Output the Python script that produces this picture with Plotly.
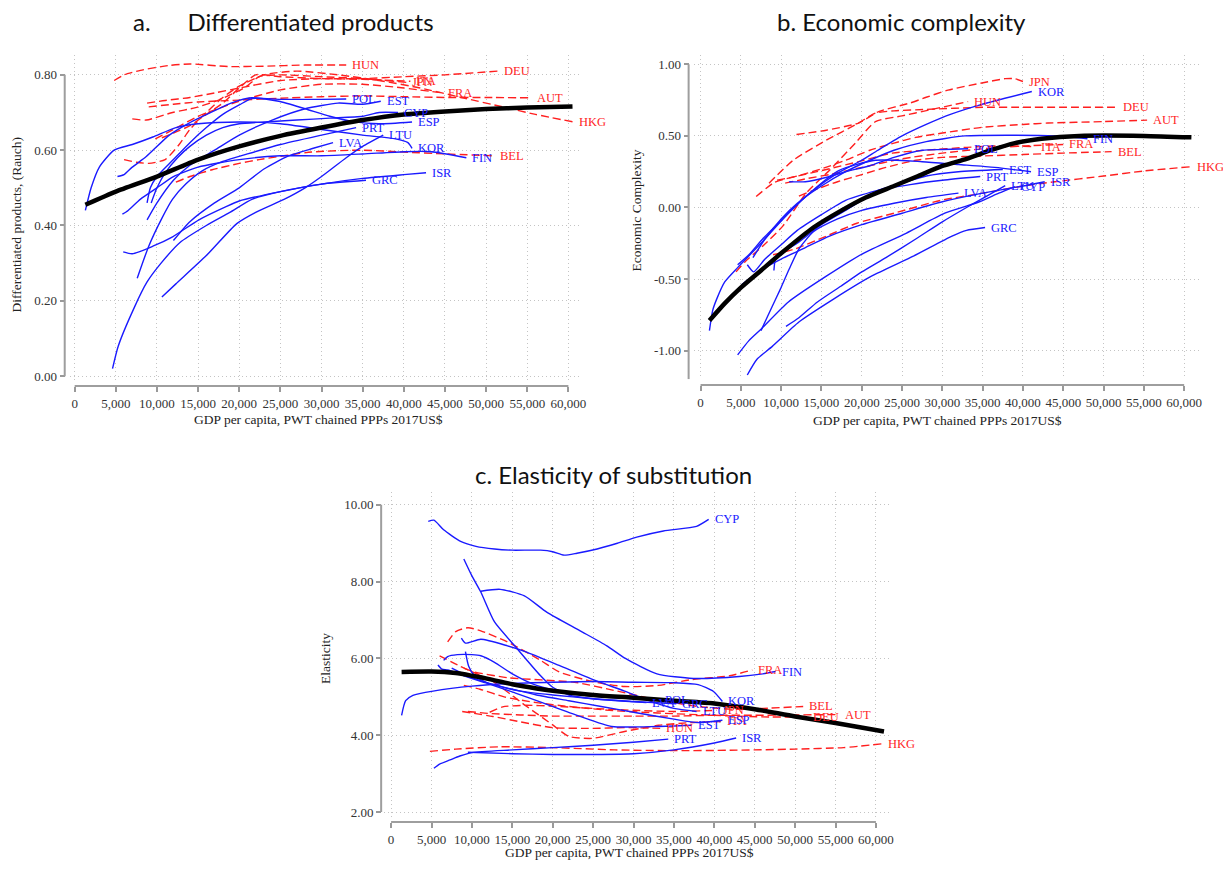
import plotly.graph_objects as go

# ---------------- data (GDP per capita in thousands of 2017US$, value) ----------------
x_tickvals = [0, 5000, 10000, 15000, 20000, 25000, 30000, 35000, 40000, 45000, 50000, 55000, 60000]
x_ticktext = ["0", "5,000", "10,000", "15,000", "20,000", "25,000", "30,000", "35,000",
              "40,000", "45,000", "50,000", "55,000", "60,000"]
a_tickvals = [0.0, 0.2, 0.4, 0.6, 0.8]
a_ticktext = ["0.00", "0.20", "0.40", "0.60", "0.80"]
b_tickvals = [-1.0, -0.5, 0.0, 0.5, 1.0]
b_ticktext = ["-1.00", "-0.50", "0.00", "0.50", "1.00"]
c_tickvals = [2, 4, 6, 8, 10]
c_ticktext = ["2.00", "4.00", "6.00", "8.00", "10.00"]

red_countries = ["HUN", "DEU", "JPN", "ITA", "FRA", "AUT", "HKG", "BEL"]
blue_countries = ["KOR", "POL", "ESP", "CYP", "EST", "PRT", "LTU", "LVA", "FIN", "ISR", "GRC"]

# Panel a: differentiated products (Rauch)
a_fit = [(1.3,0.455),(5,0.49),(10,0.53),(15,0.575),(20,0.61),(25,0.638),(30,0.66),(35,0.68),
         (40,0.695),(45,0.703),(50,0.709),(55,0.713),(60.5,0.716)]
a_HUN = [(4.8,0.785),(6,0.80),(8,0.812),(11.5,0.825),(14,0.829),(18.7,0.822),(23,0.823),(28,0.826),(33,0.826)]
a_JPN = [(7,0.683),(8.7,0.68),(11.9,0.70),(14.7,0.713),(17.5,0.733),(20.8,0.768),(22.4,0.795),(25,0.80),
         (30,0.795),(35,0.79),(40.3,0.78)]
a_ITA = [(8.8,0.725),(11,0.732),(14,0.74),(17,0.752),(20,0.765),(25,0.785),(30,0.79),(35,0.788),(40.8,0.783)]
a_DEU = [(10.6,0.633),(12,0.645),(14,0.665),(16,0.695),(18,0.725),(20,0.765),(22,0.80),(25,0.795),(30,0.79),
         (35,0.79),(40,0.795),(45,0.80),(51.4,0.81)]
a_FRA = [(9.8,0.63),(12,0.655),(15,0.69),(20,0.73),(25,0.76),(30,0.775),(35,0.775),(40,0.765),(44.7,0.752)]
a_AUT = [(9,0.715),(12,0.722),(15,0.728),(20,0.733),(25,0.738),(30,0.742),(35,0.744),(40,0.742),(45,0.74),
         (50,0.74),(55.4,0.739)]
a_HKG = [(6,0.575),(7.5,0.568),(9,0.565),(11,0.575),(12.7,0.615),(14,0.655),(16,0.70),(18,0.74),(20,0.77),
         (23,0.80),(27,0.81),(32,0.80),(37,0.785),(42,0.765),(47,0.74),(52,0.715),(56,0.695),(60.6,0.675)]
a_BEL = [(12.3,0.515),(14,0.53),(16.7,0.548),(20,0.565),(22.4,0.575),(28.8,0.595),(35,0.60),(40,0.595),
         (45,0.59),(51,0.585)]
a_KOR = [(1.3,0.44),(2.0,0.50),(3.0,0.555),(4.8,0.60),(7,0.615),(9.5,0.635),(12.3,0.66),(15,0.67),(20,0.675),
         (25,0.67),(30,0.655),(35,0.64),(39,0.63),(40.5,0.62),(41,0.605)]
a_POL = [(8.8,0.46),(9.2,0.50),(10,0.53),(12,0.575),(14,0.62),(16,0.66),(18,0.695),(20,0.72),(21.5,0.737),
         (25,0.735),(30,0.735),(33,0.736)]
a_ESP = [(5.2,0.53),(6,0.535),(7,0.555),(8.7,0.583),(11.5,0.64),(13.9,0.672),(17.2,0.707),(19,0.725),
         (21.5,0.739),(24.8,0.73),(28,0.71),(31,0.69),(34,0.675),(37,0.67),(41,0.675)]
a_CYP = [(9.3,0.46),(10,0.50),(11,0.54),(12.5,0.58),(14,0.61),(16,0.64),(18,0.66),(20,0.67),(23,0.675),
         (27,0.68),(31,0.685),(35,0.69),(37,0.70),(39.3,0.70)]
a_EST = [(8.8,0.415),(10,0.46),(12,0.52),(14,0.56),(17,0.60),(20,0.64),(24,0.68),(28,0.71),(32,0.725),
         (35,0.722),(37.2,0.73)]
a_PRT = [(7.6,0.26),(9,0.345),(10.5,0.415),(11.9,0.47),(13.5,0.51),(15.5,0.545),(18,0.57),(21,0.59),
         (25,0.615),(30,0.64),(34.2,0.66)]
a_LTU = [(10.6,0.21),(12.3,0.245),(16,0.32),(19.7,0.405),(22,0.435),(25.5,0.47),(28,0.50),(30,0.53),
         (33,0.58),(35,0.61),(37.5,0.64)]
a_LVA = [(12,0.36),(14,0.41),(17,0.46),(20,0.50),(23,0.55),(26,0.585),(29,0.605),(31.4,0.62)]
a_FIN = [(5.8,0.43),(6.5,0.44),(8,0.47),(10,0.50),(12,0.53),(15,0.555),(20,0.575),(25,0.585),(30,0.585),
         (35,0.59),(40,0.596),(43.3,0.596),(47.6,0.58)]
a_ISR = [(4.6,0.02),(5.3,0.08),(7.2,0.18),(8.8,0.25),(10.5,0.30),(12.8,0.355),(16,0.40),(18.8,0.434),
         (21.6,0.47),(25,0.49),(30,0.51),(35,0.525),(40,0.535),(42.7,0.54)]
a_GRC = [(5.9,0.33),(7,0.325),(9.5,0.345),(11.9,0.37),(15.1,0.415),(18.4,0.45),(20,0.465),(25,0.49),
         (30,0.51),(35.4,0.52)]

# Panel b: economic complexity
b_fit = [(1.1,-0.79),(3,-0.67),(5,-0.56),(7.5,-0.44),(10,-0.32),(14,-0.14),(17.5,-0.02),(20.5,0.07),
         (24,0.15),(27,0.22),(30,0.29),(33,0.34),(36,0.40),(39,0.45),(42.3,0.48),(47,0.50),(55,0.50),(60.9,0.49)]
b_HUN = [(4.4,-0.45),(5.5,-0.38),(7.7,-0.27),(10.2,-0.13),(13.1,0.10),(16,0.26),(19.2,0.45),(21.7,0.60),
         (25,0.64),(28.3,0.68),(33.2,0.74)]
b_DEU = [(8.5,0.17),(11.5,0.33),(15.6,0.47),(19.6,0.59),(21.7,0.66),(24,0.675),(28,0.685),(35,0.70),
         (40,0.70),(45,0.70),(51.7,0.70)]
b_JPN = [(11.9,0.51),(15.6,0.54),(19.6,0.59),(22.1,0.67),(26,0.73),(28,0.77),(30.7,0.82),(34.9,0.87),
         (37.8,0.90),(39,0.90),(40,0.88)]
b_ITA = [(6.9,0.077),(9,0.17),(10.2,0.195),(15.6,0.265),(19.6,0.32),(23.8,0.38),(28,0.40),(33,0.42),
         (37,0.43),(41.5,0.425)]
b_AUT = [(9.5,0.19),(12,0.22),(15,0.27),(18,0.33),(21,0.40),(24,0.45),(26.7,0.49),(30,0.52),(34.9,0.56),
         (40,0.58),(43.1,0.59),(50,0.60),(55.4,0.61)]
b_FRA = [(10.5,0.17),(13,0.20),(16,0.23),(20,0.28),(25,0.34),(30,0.38),(35,0.41),(40,0.43),(45,0.44)]
b_BEL = [(12.2,0.08),(14,0.12),(17,0.18),(20,0.23),(23,0.28),(26.7,0.33),(30,0.35),(35,0.36),(40,0.37),
         (45,0.38),(51,0.39)]
b_HKG = [(9,-0.33),(11.7,-0.29),(15.6,-0.2),(19.4,-0.11),(24,-0.04),(29.8,0.05),(35,0.10),(40,0.15),
         (44,0.18),(50,0.22),(55,0.255),(60.9,0.285)]
b_KOR = [(1.1,-0.86),(1.5,-0.72),(2,-0.64),(3,-0.52),(4.6,-0.42),(7.5,-0.25),(10.9,-0.04),(14,0.12),
         (17,0.24),(20,0.33),(22,0.40),(25,0.50),(28,0.58),(31,0.65),(34.9,0.72),(41.1,0.81)]
b_POL = [(11,0.18),(13,0.18),(15.9,0.215),(18,0.25),(20.9,0.29),(24,0.35),(27.5,0.40),(30,0.405),(33.2,0.41)]
b_ESP = [(4.6,-0.40),(6,-0.33),(7.7,-0.22),(10.2,-0.08),(13.1,0.08),(17.2,0.26),(21.7,0.33),(27.5,0.32),
         (32,0.30),(36.5,0.28),(41,0.25)]
b_CYP = [(4.6,-1.03),(6,-0.93),(7.5,-0.85),(10.9,-0.66),(15.6,-0.48),(20.2,-0.32),(25.5,-0.18),(30.3,-0.04),
         (34.6,0.04),(37,0.10),(39,0.146)]
b_EST = [(9.1,-0.44),(9.3,-0.36),(10,-0.32),(12,-0.25),(15,-0.12),(18,-0.02),(20,0.05),(22,0.12),(25,0.17),
         (28,0.22),(32,0.25),(37.5,0.265)]
b_PRT = [(5.8,-0.40),(6.2,-0.43),(6.6,-0.45),(8,-0.36),(10,-0.26),(12,-0.16),(15,-0.05),(18,0.05),
         (22,0.12),(26,0.16),(30,0.19),(34.7,0.216)]
b_LTU = [(10.6,-0.83),(12.2,-0.77),(14.5,-0.66),(17.4,-0.55),(20,-0.45),(23,-0.35),(26.7,-0.22),(30,-0.1),
         (33,0.0),(35.5,0.08),(37.8,0.153)]
b_LVA = [(7.5,-0.86),(8.9,-0.69),(9.9,-0.57),(11,-0.43),(12.2,-0.29),(14,-0.17),(17,-0.08),(20,-0.02),
         (24,0.03),(28,0.07),(32,0.10)]
b_FIN = [(6.5,-0.35),(8,-0.22),(10,-0.08),(12,0.03),(15,0.15),(18,0.25),(21,0.33),(24,0.40),(28,0.46),
         (32.8,0.50),(38,0.505),(44,0.50),(48,0.48)]
b_ISR = [(5.1,-0.54),(6,-0.5),(8,-0.42),(10,-0.36),(13,-0.28),(16,-0.2),(20,-0.12),(25,-0.04),(30,0.04),
         (35,0.10),(40,0.15),(42.7,0.18)]
b_GRC = [(5.8,-1.17),(7,-1.06),(8.9,-0.97),(12.2,-0.80),(16.5,-0.64),(21.2,-0.48),(26.4,-0.34),(31.2,-0.2),
         (33,-0.16),(35.3,-0.14)]

# Panel c: elasticity of substitution
c_fit = [(1.3,5.65),(5,5.66),(8,5.62),(10,5.55),(12,5.47),(15,5.33),(18,5.22),(20,5.16),(25,5.05),
         (30,4.98),(35,4.9),(40,4.83),(45,4.68),(50,4.49),(55,4.32),(61,4.1)]
c_HUN = [(8.8,4.62),(12.6,4.49),(16,4.35),(20,4.2),(24.9,4.18),(28.9,4.2),(33.3,4.18)]
c_DEU = [(9,5.3),(11,5.2),(14,5.0),(18,4.85),(22,4.75),(27,4.65),(33,4.58),(40,4.52),(46,4.48),(51.5,4.47)]
c_JPN = [(12.2,4.6),(13.8,4.74),(16.6,4.78),(20,4.76),(24.9,4.7),(30,4.65),(35,4.62),(40.3,4.65)]
c_ITA = [(6,6.07),(8.5,5.8),(12.6,5.4),(16.6,4.78),(20,4.27),(22,3.97),(24.9,3.92),(28.9,4.1),(33.1,4.26),
         (37,4.33),(40.8,4.36)]
c_FRA = [(7,6.43),(8,6.7),(9.5,6.8),(11.1,6.72),(14.4,6.43),(18.5,5.95),(20.8,5.65),(24.9,5.4),(28.9,5.27),
         (33.1,5.3),(37.2,5.45),(41.9,5.55),(44.7,5.7)]
c_AUT = [(9.5,4.62),(12,4.57),(16,4.53),(20,4.5),(25,4.5),(30,4.5),(35,4.5),(40,4.52),(45,4.52),(50,4.53),
         (55.4,4.54)]
c_HKG = [(4.8,3.58),(8,3.64),(13.4,3.7),(20,3.68),(27.7,3.62),(35,3.6),(41.9,3.61),(50,3.64),(56,3.68),
         (60.8,3.78)]
c_BEL = [(9,5.75),(10.3,5.65),(14.4,5.5),(22.7,5.38),(28,5.15),(33,4.92),(38,4.75),(42,4.68),(46,4.7),(51,4.75)]
c_KOR = [(1.3,4.52),(1.8,4.9),(2.7,5.04),(5.2,5.15),(10,5.28),(15,5.35),(20,5.38),(25,5.4),(30,5.38),
         (35,5.37),(38,5.32),(39.9,5.14),(41,4.88)]
c_POL = [(6.5,5.95),(7,6.05),(8.2,6.1),(10,6.1),(11.1,6.07),(12.8,5.9),(15,5.6),(18,5.3),(22,5.1),(26,5.0),
         (30,4.95),(33.2,4.91)]
c_ESP = [(5.8,5.83),(6.3,5.72),(7,5.7),(9,5.55),(12,5.35),(15,5.2),(18,5.05),(22,4.9),(26,4.75),(30,4.6),
         (35,4.42),(38,4.33),(41,4.39)]
c_CYP = [(4.6,9.57),(5.3,9.6),(6.5,9.35),(8.6,9.05),(10.5,8.92),(12.8,8.85),(15,8.82),(18.5,8.82),(20,8.78),
         (21.4,8.69),(23,8.74),(25.5,8.85),(28,9.0),(30.4,9.16),(33.7,9.32),(37.8,9.44),(39.3,9.62)]
c_EST = [(9.2,6.18),(9.6,5.8),(10.3,5.56),(12,5.35),(15.4,5.1),(18.7,4.85),(23.3,4.5),(27.3,4.23),(33,4.23),
         (37.2,4.26)]
c_PRT = [(5.3,3.14),(6,3.25),(7.3,3.36),(8.5,3.46),(10,3.55),(15,3.62),(20,3.68),(25,3.74),(30,3.82),(34.3,3.9)]
c_LTU = [(8.7,6.53),(9.2,6.4),(11.1,6.5),(14.4,6.33),(16.6,6.18),(20.8,5.82),(25,5.45),(28.9,5.15),
         (32.6,4.85),(35,4.7),(37.8,4.62)]
c_LVA = [(7.5,5.75),(10,5.5),(13,5.3),(16,5.15),(20,5.05),(25,4.95),(28,4.9),(31.6,4.85)]
c_FIN = [(11.1,7.75),(13.5,7.8),(16.5,7.63),(19.3,7.2),(23.4,6.72),(26.7,6.33),(29,6.0),(32.9,5.6),
         (37.4,5.48),(43.1,5.53),(46,5.6),(47.6,5.66)]
c_ISR = [(9.5,3.56),(15,3.52),(20,3.5),(25,3.5),(30,3.52),(35,3.62),(40,3.8),(42.7,3.93)]
c_GRC = [(9,8.59),(10,8.15),(11.1,7.73),(12.8,6.95),(15.3,6.33),(18.5,5.55),(20,5.25),(22,5.05),(25,4.95),
         (30,4.88),(35.3,4.82)]

# ---------------- figure ----------------
# The page body has an 8px margin, so the figure is shrunk and coordinates shifted by it.
OFF = 8
W, H = 1231 - 2 * OFF, 869 - 2 * OFF
def px(x): return (x - OFF) / W
def py(y): return 1 - (y - OFF) / H

panels = {
    "a": dict(xa="x", ya="y", fit=a_fit, series={}),
    "b": dict(xa="x2", ya="y2", fit=b_fit, series={}),
    "c": dict(xa="x3", ya="y3", fit=c_fit, series={}),
}
g = globals()
for p in panels:
    for ctry in red_countries + blue_countries:
        panels[p]["series"][ctry] = g[f"{p}_{ctry}"]

RED = "#ff1f1f"
BLUE = "#1a1aff"
SERIF = "Liberation Serif"

fig = go.Figure()
annotations = []
for p, info in panels.items():
    for ctry in red_countries + blue_countries:
        pts = info["series"][ctry]
        xs = [k * 1000 for k, v in pts]
        ys = [v for k, v in pts]
        is_red = ctry in red_countries
        fig.add_trace(go.Scatter(
            x=xs, y=ys, mode="lines", xaxis=info["xa"], yaxis=info["ya"],
            line=dict(color=RED if is_red else BLUE, width=1.4,
                      dash="8px,4px" if is_red else "solid", shape="spline", smoothing=0.6),
            showlegend=False, hoverinfo="skip"))
        annotations.append(dict(
            x=xs[-1], y=ys[-1], xref=info["xa"], yref=info["ya"], text=ctry, showarrow=False,
            xanchor="left", yanchor="middle", xshift=4,
            font=dict(family=SERIF, size=12.5, color=RED if is_red else BLUE)))
    fxs = [k * 1000 for k, v in info["fit"]]
    fys = [v for k, v in info["fit"]]
    fig.add_trace(go.Scatter(
        x=fxs, y=fys, mode="lines", xaxis=info["xa"], yaxis=info["ya"],
        line=dict(color="black", width=4.5, shape="spline", smoothing=0.6),
        showlegend=False, hoverinfo="skip"))

tickfont = dict(family=SERIF, size=13, color="#333333")
GRID = dict(showgrid=True, gridcolor="#c4c4c4", griddash="1px,3px", gridwidth=1.2)
def xaxis_cfg(dom, rng, pos):
    return dict(domain=[px(dom[0]), px(dom[1])], range=rng, anchor="free", position=py(pos),
                tickvals=x_tickvals, ticktext=x_ticktext, ticks="outside", ticklen=5, tickwidth=1.5,
                tickcolor="#999999", showline=False, zeroline=False, tickfont=tickfont, **GRID)
def yaxis_cfg(dom, rng, pos, tv, tt):
    return dict(domain=[py(dom[1]), py(dom[0])], range=rng, anchor="free", position=px(pos),
                tickvals=tv, ticktext=tt, ticks="outside", ticklen=5, tickwidth=1.5,
                tickcolor="#999999", showline=False, zeroline=False, tickfont=tickfont, **GRID)

shapes = []
def axline(xref, yref, x0, x1, y0, y1):
    shapes.append(dict(type="line", xref=xref, yref=yref, x0=x0, x1=x1, y0=y0, y1=y1,
                       line=dict(color="#9e9e9e", width=2), layer="above"))

fig.update_layout(
    xaxis=xaxis_cfg((70, 583), [-605, 61430], 387),
    yaxis=yaxis_cfg((55, 383), [-0.0159, 0.853], 65, a_tickvals, a_ticktext),
    xaxis2=xaxis_cfg((697, 1205), [-864, 61852], 386),
    yaxis2=yaxis_cfg((55, 380), [-1.199, 1.066], 692, b_tickvals, b_ticktext),
    xaxis3=xaxis_cfg((386, 895), [-862, 61820], 824),
    yaxis3=yaxis_cfg((493, 820), [1.844, 10.338], 383, c_tickvals, c_ticktext),
)
axline("x", "paper", 0, 60000, py(387), py(387))
axline("paper", "y", px(65), px(65), 0, 0.8)
axline("x2", "paper", 0, 60000, py(386), py(386))
axline("paper", "y2", px(692), px(692), -1.199, 1.0)
axline("x3", "paper", 0, 60000, py(824), py(824))
axline("paper", "y3", px(383), px(383), 2, 10)

TITLEFONT = dict(family="Lato", size=24, color="#111111")
AXFONT = dict(family=SERIF, size=13.5, color="#222222")
nb = "\u00a0"
annotations += [
    dict(text=f"a.{nb*6}Differentiated products", x=px(285), y=py(22), xref="paper", yref="paper",
         xanchor="center", yanchor="middle", showarrow=False, font=TITLEFONT),
    dict(text="b. Economic complexity", x=px(906), y=py(22), xref="paper", yref="paper",
         xanchor="center", yanchor="middle", showarrow=False, font=TITLEFONT),
    dict(text="c. Elasticity of substitution", x=px(617), y=py(476), xref="paper", yref="paper",
         xanchor="center", yanchor="middle", showarrow=False, font=TITLEFONT),
    dict(text="GDP per capita, PWT chained PPPs 2017US$", x=px(320), y=py(420), xref="paper", yref="paper",
         xanchor="center", yanchor="middle", showarrow=False, font=AXFONT),
    dict(text="GDP per capita, PWT chained PPPs 2017US$", x=px(942), y=py(421), xref="paper", yref="paper",
         xanchor="center", yanchor="middle", showarrow=False, font=AXFONT),
    dict(text="GDP per capita, PWT chained PPPs 2017US$", x=px(633), y=py(854), xref="paper", yref="paper",
         xanchor="center", yanchor="middle", showarrow=False, font=AXFONT),
    dict(text="Differentiated products, (Rauch)", x=px(17), y=py(225), xref="paper", yref="paper",
         xanchor="center", yanchor="middle", showarrow=False, textangle=-90, font=AXFONT),
    dict(text="Economic Complexity", x=px(640), y=py(211), xref="paper", yref="paper",
         xanchor="center", yanchor="middle", showarrow=False, textangle=-90, font=AXFONT),
    dict(text="Elasticity", x=px(327), y=py(660), xref="paper", yref="paper",
         xanchor="center", yanchor="middle", showarrow=False, textangle=-90, font=AXFONT),
]

fig.update_layout(
    width=W, height=H, margin=dict(l=0, r=0, t=0, b=0),
    paper_bgcolor="white", plot_bgcolor="white",
    annotations=annotations, shapes=shapes, showlegend=False,
)
fig.write_html("out.html")
